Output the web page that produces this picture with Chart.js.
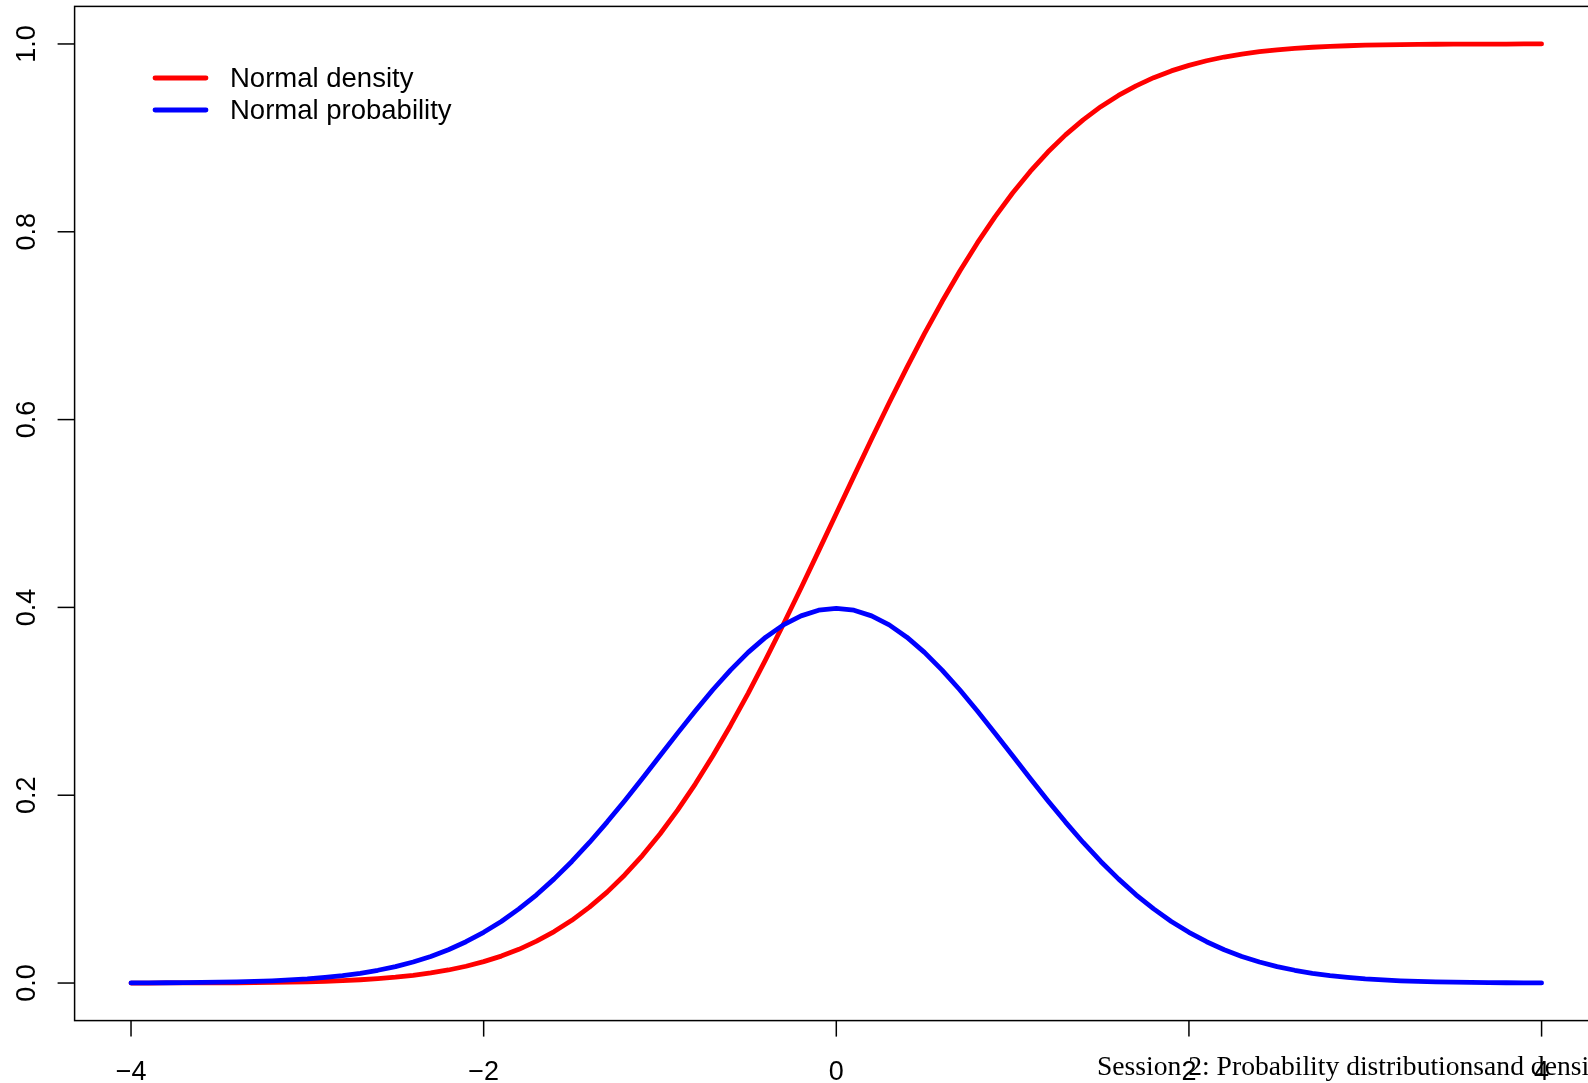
<!DOCTYPE html>
<html>
<head>
<meta charset="utf-8">
<title>Normal density and probability</title>
<script src="https://cdn.jsdelivr.net/npm/chart.js@4/dist/chart.umd.min.js"></script>
<style>
  html, body { margin: 0; padding: 0; background: #fff; overflow: hidden; }
  #wrap { width: 1610px; height: 1083px; }
</style>
</head>
<body>
<div id="wrap"><canvas id="normalChart" width="1610" height="1083"></canvas></div>
<script>
// x grid
const xValues = [
  -4.0, -3.9, -3.8, -3.7, -3.6, -3.5, -3.4, -3.3, -3.2, -3.1,
  -3.0, -2.9, -2.8, -2.7, -2.6, -2.5, -2.4, -2.3, -2.2, -2.1,
  -2.0, -1.9, -1.8, -1.7, -1.6, -1.5, -1.4, -1.3, -1.2, -1.1,
  -1.0, -0.9, -0.8, -0.7, -0.6, -0.5, -0.4, -0.3, -0.2, -0.1,
  0.0, 0.1, 0.2, 0.3, 0.4, 0.5, 0.6, 0.7, 0.8, 0.9,
  1.0, 1.1, 1.2, 1.3, 1.4, 1.5, 1.6, 1.7, 1.8, 1.9,
  2.0, 2.1, 2.2, 2.3, 2.4, 2.5, 2.6, 2.7, 2.8, 2.9,
  3.0, 3.1, 3.2, 3.3, 3.4, 3.5, 3.6, 3.7, 3.8, 3.9,
  4.0
];

// red curve ("Normal density" in the legend)
const densityValues = [
  0.0000, 0.0000, 0.0001, 0.0001, 0.0002, 0.0002, 0.0003, 0.0005, 0.0007, 0.0010,
  0.0013, 0.0019, 0.0026, 0.0035, 0.0047, 0.0062, 0.0082, 0.0107, 0.0139, 0.0179,
  0.0228, 0.0287, 0.0359, 0.0446, 0.0548, 0.0668, 0.0808, 0.0968, 0.1151, 0.1357,
  0.1587, 0.1841, 0.2119, 0.2420, 0.2743, 0.3085, 0.3446, 0.3821, 0.4207, 0.4602,
  0.5000, 0.5398, 0.5793, 0.6179, 0.6554, 0.6915, 0.7257, 0.7580, 0.7881, 0.8159,
  0.8413, 0.8643, 0.8849, 0.9032, 0.9192, 0.9332, 0.9452, 0.9554, 0.9641, 0.9713,
  0.9772, 0.9821, 0.9861, 0.9893, 0.9918, 0.9938, 0.9953, 0.9965, 0.9974, 0.9981,
  0.9987, 0.9990, 0.9993, 0.9995, 0.9997, 0.9998, 0.9998, 0.9999, 0.9999, 1.0000,
  1.0000
];

// blue curve ("Normal probability" in the legend)
const probabilityValues = [
  0.0001, 0.0002, 0.0003, 0.0004, 0.0006, 0.0009, 0.0012, 0.0017, 0.0024, 0.0033,
  0.0044, 0.0060, 0.0079, 0.0104, 0.0136, 0.0175, 0.0224, 0.0283, 0.0355, 0.0440,
  0.0540, 0.0656, 0.0790, 0.0940, 0.1109, 0.1295, 0.1497, 0.1714, 0.1942, 0.2179,
  0.2420, 0.2661, 0.2897, 0.3123, 0.3332, 0.3521, 0.3683, 0.3814, 0.3910, 0.3970,
  0.3989, 0.3970, 0.3910, 0.3814, 0.3683, 0.3521, 0.3332, 0.3123, 0.2897, 0.2661,
  0.2420, 0.2179, 0.1942, 0.1714, 0.1497, 0.1295, 0.1109, 0.0940, 0.0790, 0.0656,
  0.0540, 0.0440, 0.0355, 0.0283, 0.0224, 0.0175, 0.0136, 0.0104, 0.0079, 0.0060,
  0.0044, 0.0033, 0.0024, 0.0017, 0.0012, 0.0009, 0.0006, 0.0004, 0.0003, 0.0002,
  0.0001
];

// axis ticks
const xTicks = [-4, -2, 0, 2, 4];
const xTickLabels = ["\u22124", "\u22122", "0", "2", "4"];
const yTicks = [0, 0.2, 0.4, 0.6, 0.8, 1.0];
const yTickLabels = ["0.0", "0.2", "0.4", "0.6", "0.8", "1.0"];

const seriesNames = ["Normal density", "Normal probability"];
const seriesColors = ["#ff0000", "#0000ff"];
const footerText = "Session 2: Probability distributionsand densi";

const SANS = '"Liberation Sans", Arial, Helvetica, sans-serif';

function toPoints(ys) {
  return xValues.map((x, i) => ({ x: x, y: ys[i] }));
}

// R-style axes, box and legend drawn on top of the chart area
const baseGraphics = {
  id: "baseGraphics",
  afterDraw(chart) {
    const ctx = chart.ctx;
    const area = chart.chartArea;
    const xs = chart.scales.x;
    const ys = chart.scales.y;

    ctx.save();
    ctx.strokeStyle = "#000";
    ctx.fillStyle = "#000";
    ctx.lineWidth = 1.5;
    ctx.strokeRect(area.left, area.top, area.right - area.left, area.bottom - area.top);

    ctx.font = "27px " + SANS;
    ctx.textAlign = "center";
    ctx.textBaseline = "middle";

    // x axis ticks + labels
    xTicks.forEach((v, i) => {
      const px = xs.getPixelForValue(v);
      ctx.beginPath();
      ctx.moveTo(px, area.bottom);
      ctx.lineTo(px, area.bottom + 16);
      ctx.stroke();
      ctx.fillText(xTickLabels[i], px, area.bottom + 52);
    });

    // y axis ticks + rotated labels
    yTicks.forEach((v, i) => {
      const py = ys.getPixelForValue(v);
      ctx.beginPath();
      ctx.moveTo(area.left, py);
      ctx.lineTo(area.left - 17, py);
      ctx.stroke();
      ctx.save();
      ctx.translate(area.left - 47, py);
      ctx.rotate(-Math.PI / 2);
      ctx.fillText(yTickLabels[i], 0, 0);
      ctx.restore();
    });

    // legend (no box)
    ctx.textAlign = "left";
    ctx.lineCap = "round";
    ctx.font = "27.5px " + SANS;
    seriesNames.forEach((name, i) => {
      const ly = 78 + i * 32;
      ctx.strokeStyle = seriesColors[i];
      ctx.lineWidth = 4.8;
      ctx.beginPath();
      ctx.moveTo(155, ly);
      ctx.lineTo(206, ly);
      ctx.stroke();
      ctx.fillStyle = "#000";
      ctx.fillText(name, 230, ly + 1);
    });

    // footer note in serif
    ctx.font = '27.6px "Liberation Serif", "Times New Roman", serif';
    ctx.textBaseline = "alphabetic";
    ctx.fillText(footerText, 1097, 1075);
    ctx.restore();
  }
};

function initializeChart() {
  const canvas = document.getElementById("normalChart");
  if (!canvas) return;
  const ctx = canvas.getContext("2d");

  new Chart(ctx, {
    type: "line",
    data: {
      datasets: [
        {
          label: seriesNames[0],
          data: toPoints(densityValues),
          borderColor: seriesColors[0],
          borderWidth: 4.8,
          order: 1,
        },
        {
          label: seriesNames[1],
          data: toPoints(probabilityValues),
          borderColor: seriesColors[1],
          borderWidth: 4.8,
          order: 0,
        },
      ],
    },
    options: {
      responsive: false,
      animation: false,
      events: [],
      layout: { padding: { left: 74.6, top: 6.4, right: 12, bottom: 62.4 } },
      elements: {
        point: { radius: 0 },
        line: { tension: 0, borderCapStyle: "round", borderJoinStyle: "round", fill: false },
      },
      scales: {
        x: {
          type: "linear",
          min: -4.32,
          max: 4.32,
          grid: { display: false, drawTicks: false },
          border: { display: false },
          ticks: { display: false },
          afterFit: (s) => { s.height = 0; },
        },
        y: {
          type: "linear",
          min: -0.04,
          max: 1.04,
          grid: { display: false, drawTicks: false },
          border: { display: false },
          ticks: { display: false },
          afterFit: (s) => { s.width = 0; },
        },
      },
      plugins: { legend: { display: false }, tooltip: { enabled: false } },
    },
    plugins: [baseGraphics],
  });
}

document.addEventListener("DOMContentLoaded", initializeChart);
</script>
</body>
</html>
